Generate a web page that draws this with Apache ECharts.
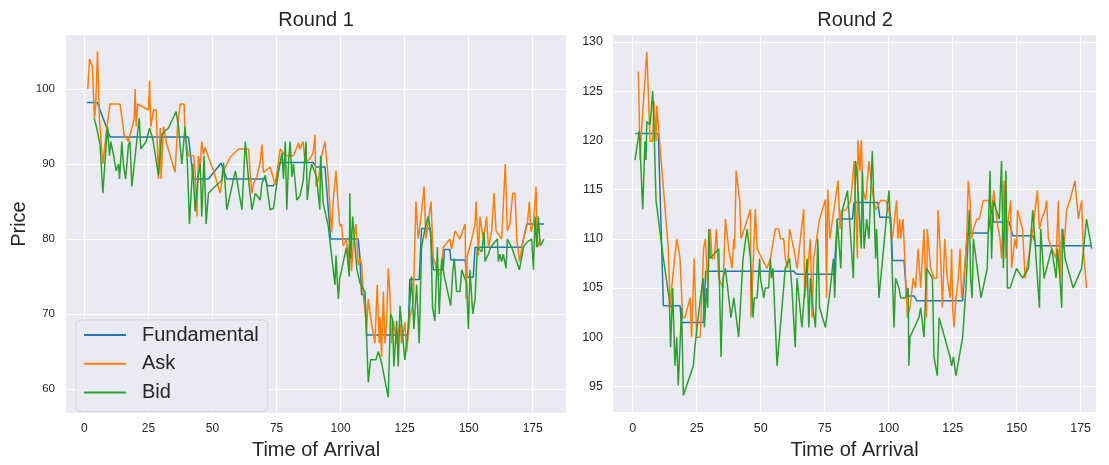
<!DOCTYPE html>
<html>
<head>
<meta charset="utf-8">
<script src="https://cdn.jsdelivr.net/npm/echarts@6/dist/echarts.min.js"></script>
<style>
  html, body { margin: 0; padding: 0; background: #fff; }
  #chart { width: 1109px; height: 465px; }
</style>
</head>
<body>
<div id="chart"></div>
<script>
// Round 1 (left panel): [time of arrival, price]
const r1Fundamental = [
  [1, 98.2], [5, 98.2], [10, 93.6], [40.6, 93.6], [42.5, 88], [48.4, 88], [53.3, 90.1], [55.6, 88],
  [70.6, 88], [71.5, 87.1], [73.8, 87.1], [75, 88], [76.4, 90.2], [89.3, 90.2], [90.5, 89.6], [93.9, 89.6],
  [96.1, 80], [106.9, 80], [107.5, 77.8], [108.2, 72.6], [109.5, 72.6], [110.2, 67.2], [126.4, 67.2],
  [127, 74.6], [130.7, 74.6], [131.6, 81.4], [134.9, 81.4], [136.2, 75.9], [140.1, 75.9], [140.5, 78.6],
  [142.7, 78.6], [143, 77.2], [148.6, 77.2], [149.5, 74.9], [151.8, 74.9], [152.5, 78.9], [170.7, 78.9],
  [172.7, 82], [179.4, 82]
];
const r1Ask = [
  [1.3, 100], [2, 104], [2.5, 104], [3.1, 103], [3.9, 96.1], [4.4, 97.8], [5.1, 105], [5.9, 95.7], [7.2, 90],
  [8.7, 94.8], [10, 98], [13.9, 98], [15.5, 93.9], [17.2, 93], [18.5, 94.8], [19.4, 95.9], [19.8, 100],
  [20.2, 95], [20.8, 98], [25, 97.2], [25.4, 101.1], [25.9, 95], [27, 97.2], [27.6, 97], [28, 97.2],
  [28.9, 88], [29.6, 94.8], [29.9, 88], [30.9, 95], [32.2, 92.6], [35.4, 88.9], [36.3, 94.8], [37.4, 98],
  [38.9, 98], [39.3, 93.9], [40.6, 91.1], [42.6, 91.1], [43.2, 89.1], [43.9, 83], [44.5, 91.1], [45.2, 89.6],
  [45.8, 93], [46.5, 91.3], [47.1, 92.2], [48.4, 90.9], [50.4, 89.1], [53, 86.1], [54.3, 89.1], [56.9, 90.9],
  [60.2, 92], [64.1, 92], [64.7, 88.7], [65.4, 86.1], [66, 87.4], [67.3, 88.3], [68.6, 90.2], [69.3, 92.6],
  [69.9, 88.9], [72.5, 89.6], [74.5, 87.2], [76.4, 92], [78.4, 91.1], [81.6, 91.1], [82.3, 91.7], [83.6, 92.8],
  [84.1, 92], [85.4, 93], [86.1, 90.2], [86.7, 90.4], [88, 90.7], [89.3, 91.5], [90, 93.9], [90.4, 87],
  [91.3, 87.8], [92.6, 91.1], [93.9, 93], [95.2, 88], [95.8, 84.3], [96.5, 80.9], [97.1, 85], [98.2, 89.1],
  [99.1, 84.3], [99.7, 81.7], [100.4, 82], [101, 79.1], [102.3, 80], [103, 77.4], [103.6, 80], [104.3, 75.7],
  [104.9, 79.1], [106, 82], [106.9, 76.5], [107.6, 77.4], [108.2, 76.7], [108.9, 72.4], [110.2, 68],
  [110.8, 72], [112.1, 68.7], [113.4, 66.1], [114.3, 73.9], [115.1, 66.1], [115.4, 69.6], [116, 64.3],
  [116.7, 73], [117.3, 66.1], [118, 69.1], [118.6, 76.1], [119.3, 72.6], [119.9, 66.1], [120.6, 69.1],
  [121.9, 66.1], [123.2, 68.7], [123.8, 66.1], [125.1, 68.9], [125.8, 65], [127.1, 69.6], [128.4, 71.7],
  [129.4, 85], [130.3, 80], [131.6, 83.5], [132.6, 87], [133.3, 80], [134.2, 82.2], [135.3, 85], [136.2, 77.4],
  [136.8, 77], [137.5, 75.7], [138.2, 75], [139.1, 75.7], [140.1, 78.9], [142.7, 80], [143.3, 78.7],
  [144.7, 81.1], [146.6, 80], [148.6, 82], [149, 72], [149.5, 77.8], [151.2, 80], [152.5, 82], [152.9, 85],
  [153.8, 77.8], [154.4, 83], [155.7, 80], [157, 83], [157.7, 78.9], [159, 81.1], [159.9, 86.1], [160.7, 81.1],
  [162.9, 80], [163.5, 80], [164.3, 90], [165.1, 81.1], [166.1, 82], [167.2, 86.1], [168.1, 86.1], [168.8, 80],
  [169.8, 77], [171.4, 80], [172.9, 82], [173.7, 85], [174.3, 81], [175.3, 82], [176.3, 87], [176.8, 78.9],
  [177.9, 80]
];
const r1Bid = [
  [3.8, 96.1], [4.8, 94.8], [6.1, 92.6], [7.2, 86.1], [8.1, 90.7], [9, 95], [9.8, 91.1], [10.3, 93],
  [11.3, 91.3], [12.4, 89.1], [13.3, 90], [13.7, 88], [14.6, 93], [15.2, 90], [16.1, 88], [17.2, 92.6],
  [17.8, 93], [18.5, 87], [19.8, 91.1], [21.4, 96.1], [22, 92], [24.1, 93], [25.4, 94.8], [26.7, 93.3],
  [28.9, 88.5], [30.2, 94], [32.8, 94.8], [35.8, 97], [36.7, 95], [38, 90], [39.3, 95], [40.2, 90], [41, 82],
  [42.3, 90], [43.2, 83.7], [44.5, 88.7], [45.2, 90], [45.8, 83], [46.7, 91.1], [47.5, 82], [48.4, 86.1],
  [51, 87], [53.6, 87.8], [54.3, 90.2], [55.6, 83.9], [58.9, 89.1], [61.5, 83.9], [62.8, 93], [64.1, 87.8],
  [65.4, 83.9], [66.7, 86.1], [68.6, 85.2], [69.3, 87.4], [70.6, 88.5], [72.5, 83.9], [73.8, 84.1],
  [75.8, 89.1], [77.1, 91.5], [77.7, 88], [78.4, 93], [79, 83.9], [79.7, 90.4], [80.3, 93], [81, 88.3],
  [81.6, 90], [82.9, 85.2], [84.1, 85.7], [85.4, 87.8], [86.5, 93], [87, 85.2], [88, 88.7], [88.7, 90],
  [90.6, 88.3], [91.9, 83.9], [92.2, 91.1], [93.2, 84.8], [95.2, 81.7], [97.8, 73.9], [98.2, 77.8],
  [99.1, 72], [99.7, 74.8], [102.3, 78.9], [103.4, 75], [103.6, 86.1], [104, 77.4], [104.7, 83],
  [105.6, 79.1], [106.3, 76.1], [107.6, 74.1], [109.5, 73], [110.8, 60.9], [111.7, 63.9], [113.8, 63.9],
  [114.7, 65], [116, 63.5], [118.6, 58.9], [119.5, 70], [120.3, 69.3], [120.8, 63], [121.9, 69.1],
  [122.5, 63], [123.2, 71.1], [124.5, 66.1], [125.1, 63.9], [126.4, 68.3], [127.7, 75], [128.6, 68],
  [129.7, 73.9], [130.7, 66.1], [131.6, 78.9], [132.9, 81.3], [134.2, 83], [135.2, 80.9], [135.9, 70.9],
  [136.8, 69.1], [137.8, 78.9], [138.5, 70], [139.5, 77.4], [140.4, 75.2], [143, 71.1], [143.8, 75.7],
  [144.4, 77.4], [145.3, 73], [146.6, 73], [147.3, 75.9], [149.2, 74.1], [149.9, 68], [150.5, 75.9],
  [151.6, 70], [152.5, 72], [152.9, 72], [153.4, 78.9], [155.1, 78.3], [156, 80.9], [156.4, 77], [157.7, 78],
  [158.6, 78.9], [161.2, 80], [161.6, 77], [162.2, 78], [162.9, 77], [163.5, 78], [164.6, 76.1], [165.1, 80],
  [166.8, 78.9], [169.8, 75.9], [171.4, 78.9], [172.7, 79.6], [174.6, 80], [175.3, 75.9], [175.9, 83],
  [176.6, 78.9], [177.2, 83], [177.9, 79.1], [179.4, 80]
];

// Round 2 (right panel): [time of arrival, price]
const r2Fundamental = [
  [1, 120.7], [10, 120.7], [12, 103.2], [18.5, 103.2], [19, 101.5], [27.6, 101.5], [28.5, 106.7],
  [62.9, 106.7], [64, 106.4], [78.6, 106.4], [80, 112], [85.8, 112], [86.5, 113.7], [95.8, 113.7],
  [96.5, 112.2], [100.8, 112.2], [101.5, 107.8], [106, 107.8], [107, 104.2], [109.9, 104.2], [111, 103.7],
  [128.9, 103.7], [130.7, 110.6], [138.9, 110.6], [140.2, 113.3], [141, 111.7], [147.1, 111.7],
  [148.5, 110.3], [156.5, 110.3], [157.5, 109.3], [179.3, 109.3]
];
const r2Ask = [
  [2.2, 127], [2.9, 118], [3.5, 121.2], [5.5, 129], [6.8, 119.9], [7.8, 119.9], [8.3, 124], [9.1, 119.9],
  [9.4, 123.5], [13.9, 109], [14.6, 103], [15.2, 105], [17.2, 110], [18.5, 108], [19.5, 102], [20.4, 102],
  [22.4, 104], [23, 100], [24, 108], [25, 100], [26.4, 100], [27.7, 109], [28.4, 110], [29.3, 105],
  [30.3, 111], [31, 108], [31.9, 108], [32.7, 111], [33.6, 106], [35.3, 105], [36.2, 112], [37.5, 109],
  [38.8, 107], [39.5, 110], [39.8, 109], [40.4, 116.9], [41.8, 113.9], [42.3, 110], [44, 111.3], [46, 113],
  [46.2, 102], [47.3, 109], [47.9, 113], [48.6, 109], [50.5, 108], [52.5, 107], [53.8, 108], [55.7, 111],
  [57, 111], [57.7, 110], [59, 110], [59.6, 108], [60.5, 107], [61.3, 111], [62.9, 109], [64.2, 107],
  [65.5, 110], [66.8, 113], [67.2, 104], [68.1, 106], [69.4, 110], [70.1, 102], [70.7, 108], [72, 110.3],
  [73, 112], [75.3, 114], [75.7, 104], [76.2, 115], [77, 110], [78.6, 112.9], [80.2, 115.9], [81, 111],
  [81.5, 112.9], [83.2, 112.9], [83.9, 112.9], [85.2, 113.9], [86.5, 117.9], [87.1, 117.9], [87.8, 108],
  [88, 120], [88.8, 116.9], [89.3, 120], [90, 114.9], [91, 113.9], [92.3, 117.9], [93.6, 114.9],
  [94.9, 112.9], [96.9, 113.9], [98.8, 113.9], [100.1, 112.9], [101.4, 110], [103.1, 113.9], [103.6, 110],
  [104.3, 112], [104.7, 110], [105.6, 112], [106.3, 108], [107.3, 102], [108.3, 103], [109.6, 106],
  [110.5, 105], [111.5, 109], [112.5, 105], [113.8, 111], [114.8, 102], [115.1, 111], [116.4, 107],
  [117.7, 106], [118.8, 106], [119.3, 112.9], [120.3, 108], [121, 103], [121.9, 110], [122.9, 106],
  [124, 104], [124.6, 109], [125, 103], [125.5, 101], [126.3, 104], [127.2, 106], [127.9, 109], [128.5, 104],
  [129.4, 106], [130.5, 110], [131.1, 115.9], [131.8, 113.9], [132.4, 110], [133.1, 111], [134.4, 112],
  [135.4, 112], [137, 113.9], [138.9, 113.9], [140.2, 112.9], [141.1, 114.9], [142.2, 112], [143.5, 110],
  [144.1, 108], [145.1, 115.9], [145.8, 108], [146.7, 112], [147.7, 113.9], [148, 107], [149.3, 110],
  [150, 109], [150.3, 112.9], [152.3, 111], [153.3, 106], [154.6, 108], [155.9, 110], [156.8, 112],
  [158.1, 114.9], [158.9, 111], [159.8, 112], [161.1, 112.9], [161.7, 113.9], [162.4, 110], [163.7, 109],
  [165.4, 108], [166.3, 113.9], [166.9, 106], [167.6, 111], [168.5, 109], [169.5, 112.9], [170.8, 113.9],
  [172.8, 115.9], [174.1, 112], [174.7, 112], [175.4, 113.9], [176, 109], [177.3, 105]
];
const r2Bid = [
  [0.9, 118], [2.6, 121], [3.9, 113], [4.8, 119.9], [5.2, 118], [5.5, 121.9], [6.8, 121.6], [7.8, 125],
  [8.3, 121.6], [9.1, 113.9], [12, 108], [14.3, 103.8], [14.8, 99], [15.6, 105], [16.5, 97.1], [17.2, 100],
  [17.8, 95.1], [19.1, 103], [19.8, 94.1], [23.7, 97.1], [24.3, 99], [25, 99], [26, 103], [27.5, 106],
  [28, 101], [28.8, 105], [29.3, 103], [29.7, 111], [30.3, 108], [33.6, 109], [34.5, 98], [35.3, 106],
  [36.2, 107], [38.4, 102], [39.5, 104], [41.4, 100], [43.1, 108], [44.7, 111], [46, 108], [47, 102],
  [47.5, 104], [48.6, 104], [49.6, 108], [49.9, 106], [51.2, 104], [51.8, 105], [53.1, 105], [53.8, 108],
  [54.2, 106], [54.8, 107], [56.4, 97.1], [59.6, 107], [61.3, 108], [62.2, 105], [63.5, 99], [64.2, 106],
  [66.1, 101], [68.1, 108], [68.8, 101], [69.4, 106], [70.4, 103], [71.4, 101], [72.3, 110], [73, 103],
  [75.3, 101], [77.2, 105], [78.4, 108], [78.9, 104], [79.9, 112], [81.3, 107], [81.9, 112.9], [83.9, 114.9],
  [85.2, 110], [86.2, 106], [87.1, 117.9], [87.8, 115.9], [89.3, 109], [89.7, 116.9], [90.4, 109],
  [91.4, 112], [92.3, 110], [93.6, 118.9], [94.9, 108], [95.3, 111], [96.2, 104], [100.1, 114.9], [101, 110],
  [102.1, 101], [102.7, 106], [104, 105], [104.7, 104], [106.6, 104], [107.6, 105], [107.9, 97.1],
  [108.3, 100], [111.8, 102], [112.5, 103], [113.8, 100], [114.8, 107], [117.1, 106], [117.7, 98],
  [119, 96.1], [119.7, 102], [124, 98], [124.6, 97.1], [125.3, 98], [126.3, 96.1], [128.9, 100],
  [130.2, 105], [131.5, 112.9], [132, 106], [132.6, 104], [133.1, 110], [133.3, 110], [136.1, 104],
  [138.5, 107], [139.6, 116.9], [140.2, 108], [140.9, 113.9], [143.2, 112], [144.1, 117.9], [144.8, 107],
  [145.8, 116.9], [146.4, 105], [147.4, 105], [150, 107], [152.3, 106], [154.6, 107], [156.3, 112.9],
  [157.6, 108], [158.9, 103], [159.4, 111], [160.7, 106], [163.7, 109], [165.4, 106], [165.9, 109],
  [166.9, 106], [167.6, 103], [168, 111], [168.9, 108], [172.1, 105], [175.4, 107], [177.3, 112], [179.3, 109]
];

// tick labels
const xTicks = [0, 25, 50, 75, 100, 125, 150, 175];
const r1YTicks = [60, 70, 80, 90, 100];
const r2YTicks = [95, 100, 105, 110, 115, 120, 125, 130];

const FONT = '"Liberation Sans", Arial, "DejaVu Sans", sans-serif';
const TEXT = '#262626';
const BLUE = '#1f77b4', ORANGE = '#ff7f0e', GREEN = '#2ca02c';

function xAxisFor(gridIndex, min, max, fontSize) {
  return {
    gridIndex: gridIndex, type: 'value', min: min, max: max,
    name: 'Time of Arrival', nameLocation: 'middle', nameGap: 22,
    nameTextStyle: { fontSize: 20, color: TEXT, fontFamily: FONT },
    axisLine: { show: false },
    axisTick: { show: false, customValues: xTicks },
    axisLabel: { customValues: xTicks, fontSize: fontSize, color: TEXT, fontFamily: FONT, margin: 10 },
    splitLine: { show: true, lineStyle: { color: '#ffffff', width: 1.2 } }
  };
}

function yAxisFor(gridIndex, min, max, ticks, fontSize, margin) {
  return {
    gridIndex: gridIndex, type: 'value', min: min, max: max,
    axisLine: { show: false },
    axisTick: { show: false, customValues: ticks },
    axisLabel: { customValues: ticks, fontSize: fontSize, color: TEXT, fontFamily: FONT, margin: margin },
    splitLine: { show: true, lineStyle: { color: '#ffffff', width: 1.2 } }
  };
}

function line(name, data, color, idx) {
  return {
    name: name, type: 'line', data: data, xAxisIndex: idx, yAxisIndex: idx,
    symbol: 'none', showSymbol: false, smooth: false,
    lineStyle: { color: color, width: 1.5 }, itemStyle: { color: color },
    emphasis: { disabled: true }
  };
}

const chart = echarts.init(document.getElementById('chart'), null, { renderer: 'canvas' });
const yAxisLeft = yAxisFor(0, 56.8, 107.2, r1YTicks, 11.5, 11);
yAxisLeft.name = 'Price';
yAxisLeft.nameLocation = 'middle';
yAxisLeft.nameGap = 37;
yAxisLeft.nameTextStyle = { fontSize: 20, color: TEXT, fontFamily: FONT };

chart.setOption({
  animation: false,
  backgroundColor: '#ffffff',
  title: [
    { text: 'Round 1', left: 316, top: 10, textAlign: 'center', padding: 0,
      textStyle: { fontSize: 20, fontWeight: 'normal', color: TEXT, fontFamily: FONT } },
    { text: 'Round 2', left: 855, top: 10, textAlign: 'center', padding: 0,
      textStyle: { fontSize: 20, fontWeight: 'normal', color: TEXT, fontFamily: FONT } }
  ],
  legend: {
    data: ['Fundamental', 'Ask', 'Bid'],
    orient: 'vertical', left: 76, top: 320,
    padding: [5, 9, 9, 7], itemGap: 8.7,
    itemWidth: 42, itemHeight: 20,
    itemStyle: { opacity: 0 },
    lineStyle: { width: 2 },
    backgroundColor: 'rgba(234,234,242,0.85)', borderColor: '#d3d3da', borderWidth: 1, borderRadius: 4,
    textStyle: { fontSize: 20, lineHeight: 20, color: TEXT, fontFamily: FONT, padding: [0, 0, 0, 11] },
    selectedMode: false
  },
  grid: [
    { left: 66, top: 35, width: 500, height: 386, show: true, backgroundColor: '#EAEAF2', borderWidth: 0 },
    { left: 613, top: 35, width: 483, height: 386, show: true, backgroundColor: '#EAEAF2', borderWidth: 0 }
  ],
  xAxis: [xAxisFor(0, -7.2, 188, 12), xAxisFor(1, -7.7, 181, 12.5)],
  yAxis: [yAxisLeft, yAxisFor(1, 92.4, 130.7, r2YTicks, 12.5, 10)],
  series: [
    line('Fundamental', r1Fundamental, BLUE, 0),
    line('Ask', r1Ask, ORANGE, 0),
    line('Bid', r1Bid, GREEN, 0),
    line('Fundamental', r2Fundamental, BLUE, 1),
    line('Ask', r2Ask, ORANGE, 1),
    line('Bid', r2Bid, GREEN, 1)
  ]
});
</script>
</body>
</html>
